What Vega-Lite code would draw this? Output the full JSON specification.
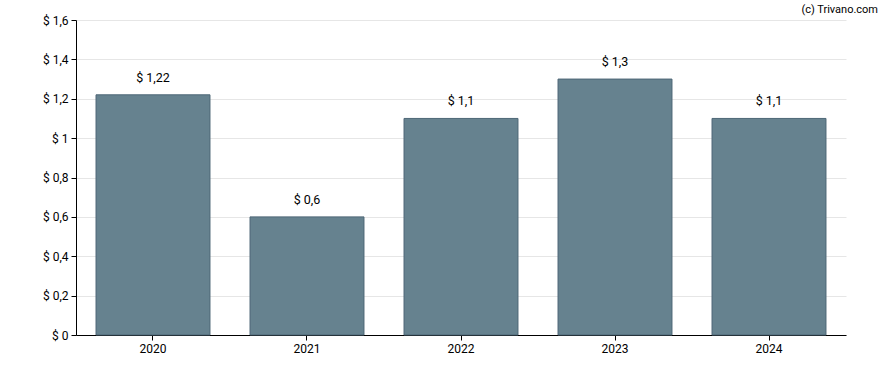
{
  "$schema": "https://vega.github.io/schema/vega-lite/v6.json",
  "width": 770,
  "height": 315,
  "autosize": "none",
  "padding": {"left": 76, "top": 20, "right": 42, "bottom": 35},
  "background": "white",
  "config": {
    "view": {"stroke": null},
    "font": "Roboto",
    "axis": {"labelFont": "Roboto", "labelFontSize": 12, "labelColor": "#000000"}
  },
  "title": {
    "text": "(c) Trivano.com",
    "anchor": "end",
    "frame": "group",
    "fontSize": 11,
    "fontWeight": "normal",
    "font": "Roboto",
    "color": "#000000",
    "dx": 32,
    "offset": 0,
    "baseline": "alphabetic",
    "dy": 10
  },
  "data": {
    "values": [
      {"year": "2020", "value": 1.22},
      {"year": "2021", "value": 0.6},
      {"year": "2022", "value": 1.1},
      {"year": "2023", "value": 1.3},
      {"year": "2024", "value": 1.1}
    ]
  },
  "transform": [
    {"calculate": "'$ ' + replace(format(datum.value, '~g'), '.', ',')", "as": "label"}
  ],
  "encoding": {
    "x": {
      "field": "year",
      "type": "nominal",
      "scale": {"paddingInner": 0.26, "paddingOuter": 0.13},
      "axis": {
        "title": null,
        "labelAngle": 0,
        "domainColor": "#000000",
        "tickColor": "#000000",
        "tickSize": 5,
        "labelPadding": 3,
        "grid": false
      }
    },
    "y": {
      "field": "value",
      "type": "quantitative",
      "scale": {"domain": [0, 1.6], "nice": false},
      "axis": {
        "title": null,
        "values": [0, 0.2, 0.4, 0.6, 0.8, 1, 1.2, 1.4, 1.6],
        "labelOverlap": false,
        "labelExpr": "'$ ' + replace(format(datum.value, '~g'), '.', ',')",
        "domainColor": "#000000",
        "tickColor": "#000000",
        "tickSize": 5,
        "gridColor": "#e6e6e6",
        "labelPadding": 3
      }
    }
  },
  "layer": [
    {
      "mark": {"type": "bar", "color": "#66828f", "stroke": "#4d6676", "strokeWidth": 1}
    },
    {
      "mark": {"type": "text", "dy": -17, "fontSize": 12.5, "font": "Roboto", "color": "#000000"},
      "encoding": {"text": {"field": "label"}}
    }
  ]
}
